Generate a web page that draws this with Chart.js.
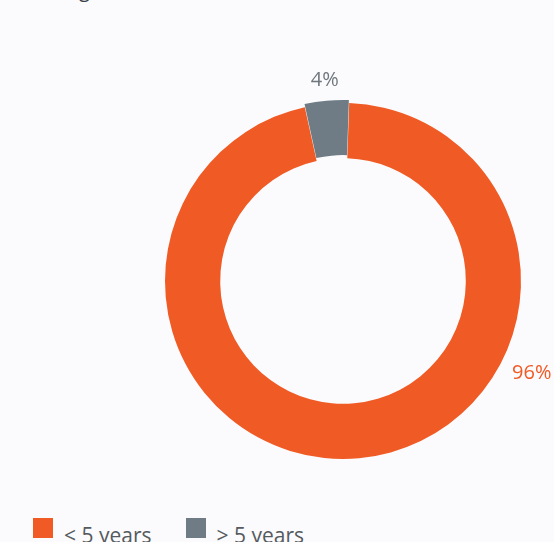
<!DOCTYPE html>
<html>
<head>
<meta charset="utf-8">
<script src="https://cdn.jsdelivr.net/npm/chart.js@4.4.0/dist/chart.umd.min.js"></script>
<style>
  html, body {
    margin: 0;
    padding: 0;
    width: 554px;
    height: 542px;
    overflow: hidden;
    background: #fbfbfd;
    font-family: "Open Sans", Lato, sans-serif;
  }
  #titre {
    position: absolute;
    left: 45px;
    top: -24px;
    font-size: 20px;
    color: #3c4145;
    white-space: nowrap;
  }
  #wrap {
    position: absolute;
    left: 0;
    top: 0;
    width: 554px;
    height: 500px;
  }
  #legende {
    position: absolute;
    left: 33px;
    top: 518px;
    display: flex;
    font-size: 21px;
    color: #555a5e;
  }
  .item {
    display: flex;
    align-items: flex-start;
    margin-right: 34px;
  }
  .box {
    width: 20px;
    height: 20px;
    margin-right: 11px;
  }
  .item span {
    line-height: 20px;
    margin-top: 7px;
    white-space: nowrap;
  }
</style>
</head>
<body>
<div id="titre">Length of service</div>
<div id="wrap"><canvas id="myChart" width="554" height="500"></canvas></div>
<div id="legende"></div>
<script>
// données du graphique
let categories = ["< 5 years", "> 5 years"];
let valeurs = [96, 4];
let etiquettes = ["96%", "4%"];
let couleurs = ["#f05a24", "#6f7c85"];
let couleursTexte = ["#f05a24", "#6f777d"];

// petites étiquettes autour de l'anneau
const etiquettesPlugin = {
  id: "etiquettes",
  afterDatasetsDraw(chart, args, opts) {
    const ctx = chart.ctx;
    const meta = chart.getDatasetMeta(0);
    meta.data.forEach((arc, i) => {
      const p = arc.getProps(["x", "y", "startAngle", "endAngle", "outerRadius"], true);
      let angle = (p.startAngle + p.endAngle) / 2;
      if (opts.angles[i] !== null) {
        angle = (opts.angles[i] - 90) * Math.PI / 180;
      }
      const r = p.outerRadius + opts.distances[i];
      ctx.save();
      ctx.font = "20px 'Open Sans'";
      ctx.fillStyle = couleursTexte[i];
      ctx.textAlign = "center";
      ctx.textBaseline = "middle";
      ctx.fillText(etiquettes[i], p.x + Math.cos(angle) * r, p.y + Math.sin(angle) * r);
      ctx.restore();
    });
  },
};

const data = {
  labels: categories,
  datasets: [
    {
      data: valeurs,
      backgroundColor: couleurs,
      borderWidth: 0,
      offset: [0, 7],
      hoverOffset: 0,
    },
  ],
};

const config = {
  type: "doughnut",
  data: data,
  options: {
    responsive: false,
    animation: false,
    rotation: 2,
    cutout: "69%",
    radius: 178,
    layout: {
      padding: { left: 140, right: 8, top: 67, bottom: 5 },
    },
    plugins: {
      legend: false,
      tooltip: { enabled: false },
      etiquettes: {
        angles: [116, null],
        distances: [32, 24],
      },
    },
  },
  plugins: [etiquettesPlugin],
};

let context = document.getElementById("myChart").getContext("2d");
let chart = new Chart(context, config);

// légende en html
let legende = document.getElementById("legende");
categories.forEach((nom, i) => {
  legende.innerHTML += `<div class="item"><div class="box" style="background:${couleurs[i]}"></div><span>${nom}</span></div>`;
});
</script>
</body>
</html>
